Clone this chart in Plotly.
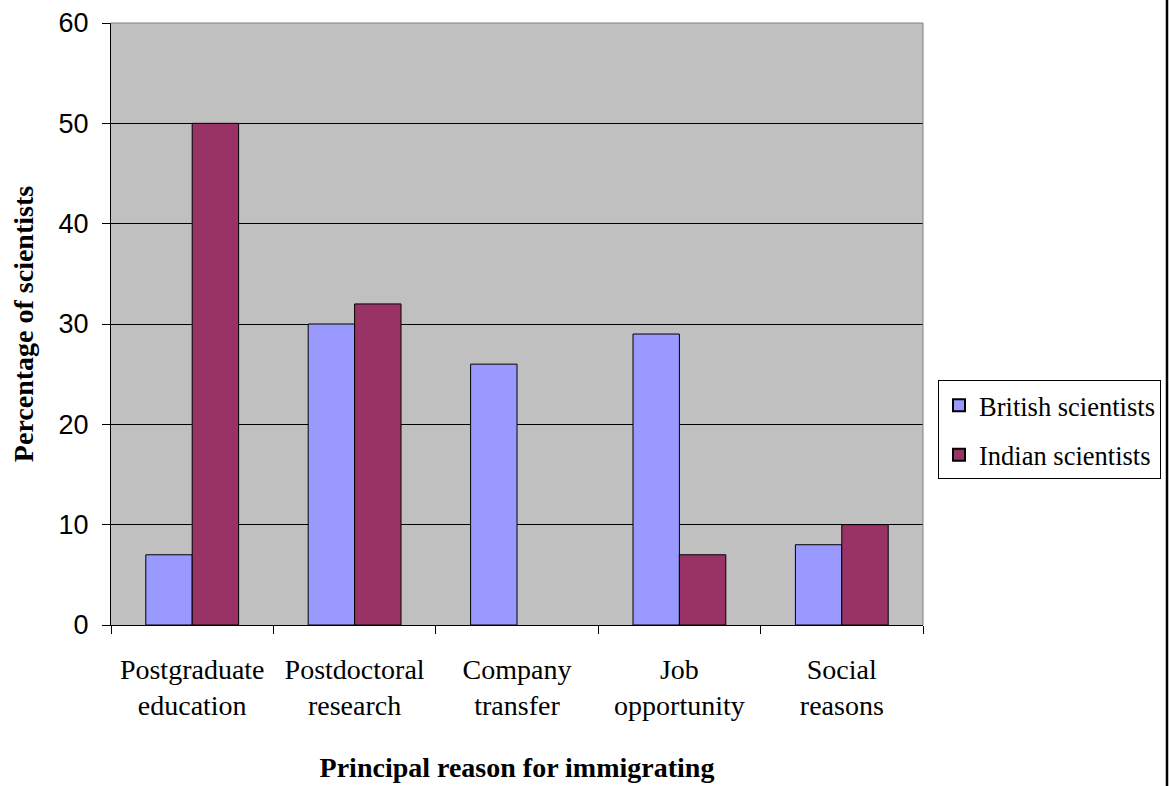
import plotly.graph_objects as go

categories = ["Postgraduate<br>education", "Postdoctoral<br>research", "Company<br>transfer",
              "Job<br>opportunity", "Social<br>reasons"]
british = [7, 30, 26, 29, 8]
indian = [50, 32, None, 7, 10]
series_names = ["British scientists", "Indian scientists"]
colors = ["#9999FF", "#993366"]
y_ticks = [0, 10, 20, 30, 40, 50, 60]

serif = "Liberation Serif, Times New Roman, serif"
sans = "Liberation Sans, Arial, sans-serif"

fig = go.Figure()
for name, vals, col, grp in zip(series_names, [british, indian], colors, ["a", "b"]):
    fig.add_trace(go.Bar(
        x=categories, y=vals, name=name, legendgroup=grp,
        marker=dict(color=col, line=dict(color="black", width=1)),
    ))

fig.update_layout(
    width=1169, height=786,
    margin=dict(l=111, r=246, t=23, b=161, autoexpand=False),
    paper_bgcolor="white", plot_bgcolor="#C0C0C0",
    barmode="group", bargap=0.4286, bargroupgap=0,
    showlegend=True,
    legend=dict(
        x=1.0185, xanchor="left", y=0.324, yanchor="middle",
        bordercolor="black", borderwidth=1, bgcolor="white",
        font=dict(family=serif, size=26.5, color="black"),
        tracegroupgap=12, itemsizing="constant",
    ),
    xaxis=dict(
        showline=True, linecolor="black", linewidth=1,
        ticks="outside", tickson="boundaries", ticklen=8, tickcolor="black",
        tickfont=dict(family=serif, size=28, color="black"),
        ticklabelstandoff=19,
        title=dict(text="<b>Principal reason for immigrating</b>",
                   font=dict(family=serif, size=28, color="black"), standoff=37),
        showgrid=False,
    ),
    yaxis=dict(
        range=[0, 60], tickvals=y_ticks,
        showline=True, linecolor="black", linewidth=1,
        ticks="outside", ticklen=8, tickcolor="black",
        tickfont=dict(family=sans, size=27, color="black"),
        ticklabelstandoff=8,
        showgrid=True, gridcolor="black", gridwidth=1,
        zeroline=False,
        title=dict(text="<b>Percentage of scientists</b>",
                   font=dict(family=serif, size=28, color="black"), standoff=16),
    ),
    shapes=[
        dict(type="line", xref="paper", yref="paper", x0=0, x1=1, y0=1, y1=1,
             line=dict(color="#808080", width=1), layer="above"),
        dict(type="line", xref="paper", yref="paper", x0=1, x1=1, y0=0, y1=1,
             line=dict(color="#808080", width=1), layer="above"),
        dict(type="line", xref="paper", yref="paper", x0=1.3005, x1=1.3005, y0=-0.3, y1=1.05,
             line=dict(color="black", width=2.5)),
    ],
)

fig.write_html("out.html")
